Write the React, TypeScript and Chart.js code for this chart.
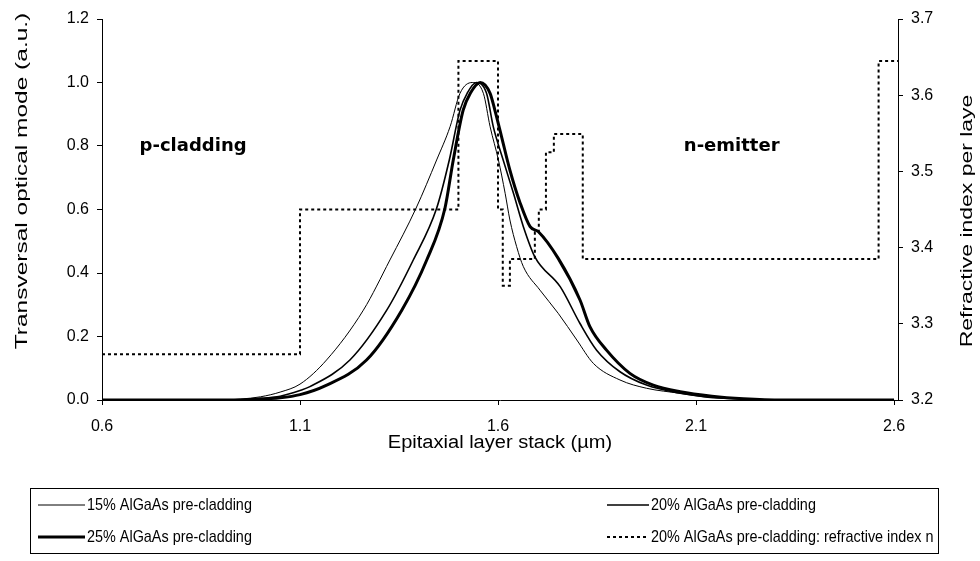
import React, { useEffect, useRef } from "react";
import { Chart, registerables } from "chart.js";

Chart.register(...registerables);

// Axis ticks
const xTicks = [0.6, 1.1, 1.6, 2.1, 2.6];
const leftTicks = [0.0, 0.2, 0.4, 0.6, 0.8, 1.0, 1.2];
const rightTicks = [3.2, 3.3, 3.4, 3.5, 3.6, 3.7];

// Transversal optical mode, 15% AlGaAs pre-cladding
const x15 = [0.6, 0.9, 0.95, 1.0, 1.05, 1.1, 1.167, 1.26, 1.327, 1.393, 1.445, 1.479, 1.504, 1.535, 1.563, 1.58, 1.601, 1.618, 1.63, 1.647, 1.664, 1.706, 1.752, 1.799, 1.841, 1.908, 1.975, 2.06, 2.12, 2.2, 2.27, 2.6];
const mode15 = [0, 0, 0.003, 0.01, 0.025, 0.05, 0.126, 0.283, 0.441, 0.604, 0.756, 0.861, 0.966, 1.0, 0.966, 0.861, 0.756, 0.651, 0.567, 0.483, 0.42, 0.346, 0.273, 0.189, 0.115, 0.063, 0.037, 0.021, 0.01, 0.004, 0, 0];

// Transversal optical mode, 20% AlGaAs pre-cladding
const x20 = [0.6, 0.92, 1.0, 1.05, 1.1, 1.125, 1.226, 1.319, 1.386, 1.445, 1.477, 1.504, 1.522, 1.545, 1.571, 1.588, 1.613, 1.639, 1.664, 1.693, 1.757, 1.807, 1.849, 1.908, 1.975, 2.06, 2.13, 2.22, 2.3, 2.6];
const mode20 = [0, 0, 0.005, 0.012, 0.03, 0.042, 0.126, 0.283, 0.441, 0.604, 0.756, 0.913, 0.966, 1.0, 0.966, 0.861, 0.756, 0.651, 0.546, 0.451, 0.357, 0.241, 0.157, 0.089, 0.047, 0.021, 0.009, 0.003, 0, 0];

// Transversal optical mode, 25% AlGaAs pre-cladding
const x25 = [0.6, 0.93, 1.0, 1.05, 1.1, 1.159, 1.268, 1.357, 1.42, 1.466, 1.487, 1.512, 1.53, 1.555, 1.58, 1.592, 1.609, 1.63, 1.656, 1.681, 1.702, 1.752, 1.807, 1.832, 1.874, 1.933, 1.992, 2.06, 2.14, 2.22, 2.32, 2.6];
const mode25 = [0, 0, 0.003, 0.007, 0.017, 0.042, 0.126, 0.283, 0.441, 0.604, 0.756, 0.913, 0.966, 1.0, 0.966, 0.913, 0.829, 0.724, 0.62, 0.546, 0.53, 0.446, 0.315, 0.231, 0.157, 0.084, 0.047, 0.026, 0.012, 0.004, 0, 0];

// Refractive index per layer, 20% AlGaAs pre-cladding (value holds until the next boundary)
const layerStart = [0.6, 1.1, 1.5, 1.6, 1.612, 1.63, 1.693, 1.703, 1.721, 1.741, 1.814, 2.561, 2.61];
const layerIndex = [3.26, 3.45, 3.645, 3.45, 3.35, 3.385, 3.42, 3.45, 3.525, 3.549, 3.385, 3.645, 3.645];

const seriesNames = [
  "15% AlGaAs pre-cladding",
  "20% AlGaAs pre-cladding",
  "25% AlGaAs pre-cladding",
  "20% AlGaAs pre-cladding: refractive index n",
];

const regionNames = ["p-cladding", "n-emitter"];
const regionX = [0.83, 2.19];
const regionY = [0.8, 0.8];

const xTitle = "Epitaxial layer stack (µm)";
const yTitle = "Transversal optical mode (a.u.)";
const y1Title = "Refractive index per laye";

const FONT = '"Liberation Sans", Arial, sans-serif';

const pts = (xs: number[], ys: number[]) => xs.map((x, i) => ({ x, y: ys[i] }));

const fixTicks = (values: number[]) => (scale: any) => {
  scale.ticks = values.map((v) => ({ value: v }));
};

// draws text scaled along (sx) and across (sy) its baseline
function stretchedText(ctx: any, text: string, x: number, y: number, rot: number, sx: number, sy: number) {
  ctx.save();
  ctx.translate(x, y);
  ctx.rotate(rot);
  ctx.scale(sx, sy);
  ctx.fillText(text, 0, 0);
  ctx.restore();
}

const textPlugin = {
  id: "stackText",
  afterDraw(chart: any) {
    const { ctx, chartArea, scales } = chart;
    ctx.save();
    ctx.fillStyle = "#000";
    ctx.textAlign = "center";
    ctx.textBaseline = "middle";

    // axis titles
    ctx.font = `17px ${FONT}`;
    stretchedText(ctx, xTitle, (chartArea.left + chartArea.right) / 2, 443, 0, 1.18, 1.05);
    stretchedText(ctx, yTitle, 22, 181, -Math.PI / 2, 1.44, 1);
    stretchedText(ctx, y1Title, 967, 221, -Math.PI / 2, 1.35, 1);

    // region labels
    ctx.font = `bold 18px "DejaVu Sans", Verdana, sans-serif`;
    regionNames.forEach((name, i) => {
      ctx.fillText(name, scales.x.getPixelForValue(regionX[i]), scales.y.getPixelForValue(regionY[i]));
    });

    // legend box
    const box = { l: 30, t: 488, r: 938, b: 553 };
    ctx.strokeStyle = "#000";
    ctx.lineWidth = 1;
    ctx.strokeRect(box.l + 0.5, box.t + 0.5, box.r - box.l, box.b - box.t);

    const slots = [
      { x: 38, y: 505, len: 47 },
      { x: 607, y: 505, len: 42 },
      { x: 38, y: 537, len: 47 },
      { x: 607, y: 537, len: 42 },
    ];
    ctx.font = `15px ${FONT}`;
    ctx.textAlign = "left";
    chart.data.datasets.forEach((ds: any, i: number) => {
      const s = slots[i];
      ctx.save();
      ctx.strokeStyle = ds.borderColor;
      ctx.lineWidth = ds.borderWidth;
      ctx.setLineDash(ds.borderDash || []);
      ctx.beginPath();
      ctx.moveTo(s.x, s.y);
      ctx.lineTo(s.x + s.len, s.y);
      ctx.stroke();
      ctx.restore();
      stretchedText(ctx, ds.label, s.x + s.len + 2, s.y, 0, 0.96, 1.12);
    });
    ctx.restore();
  },
};

export default function App() {
  const ref = useRef<HTMLCanvasElement>(null);

  useEffect(() => {
    if (!ref.current) return;
    const axisCommon = {
      border: { display: true, color: "#000", width: 1 },
      grid: { display: true, drawOnChartArea: false, drawTicks: true, tickLength: 5, color: "#000" },
    };
    const tickFont = { family: FONT, size: 16 };
    const chart = new Chart(ref.current, {
      type: "line",
      data: {
        datasets: [
          {
            label: seriesNames[0],
            data: pts(x15, mode15),
            borderColor: "#000",
            borderWidth: 1,
            yAxisID: "y",
          },
          {
            label: seriesNames[1],
            data: pts(x20, mode20),
            borderColor: "#000",
            borderWidth: 1.6,
            yAxisID: "y",
          },
          {
            label: seriesNames[2],
            data: pts(x25, mode25),
            borderColor: "#000",
            borderWidth: 3,
            yAxisID: "y",
          },
          {
            label: seriesNames[3],
            data: pts(layerStart, layerIndex),
            borderColor: "#000",
            borderWidth: 2,
            borderDash: [3, 3],
            stepped: "before",
            cubicInterpolationMode: "default",
            yAxisID: "y1",
          },
        ] as any,
      },
      options: {
        animation: false,
        responsive: false,
        devicePixelRatio: 1,
        layout: { padding: { top: 19, left: 0, right: 0, bottom: 0 } },
        elements: {
          point: { radius: 0 },
          line: { cubicInterpolationMode: "monotone", fill: false },
        },
        plugins: { legend: { display: false }, tooltip: { enabled: false } },
        scales: {
          x: {
            type: "linear",
            min: 0.6,
            max: 2.61,
            afterBuildTicks: fixTicks(xTicks),
            afterFit: (s: any) => {
              s.height = 161;
            },
            ticks: {
              color: "#000",
              font: tickFont,
              padding: 12,
              maxRotation: 0,
              callback: (v: any) => Number(v).toFixed(1),
            },
            ...axisCommon,
          },
          y: {
            type: "linear",
            position: "left",
            min: 0,
            max: 1.2,
            afterBuildTicks: fixTicks(leftTicks),
            afterFit: (s: any) => {
              s.width = 102;
            },
            ticks: {
              color: "#000",
              font: tickFont,
              padding: 8,
              callback: (v: any) => Number(v).toFixed(1),
            },
            ...axisCommon,
          },
          y1: {
            type: "linear",
            position: "right",
            min: 3.2,
            max: 3.7,
            afterBuildTicks: fixTicks(rightTicks),
            afterFit: (s: any) => {
              s.width = 82;
            },
            ticks: {
              color: "#000",
              font: tickFont,
              padding: 8,
              callback: (v: any) => Number(v).toFixed(1),
            },
            ...axisCommon,
          },
        },
      } as any,
      plugins: [textPlugin],
    });
    return () => chart.destroy();
  }, []);

  return (
    <div style={{ position: "absolute", left: 0, top: 0, width: 980, height: 561, background: "#fff" }}>
      <canvas ref={ref} width={980} height={561} style={{ display: "block" }} />
    </div>
  );
}
